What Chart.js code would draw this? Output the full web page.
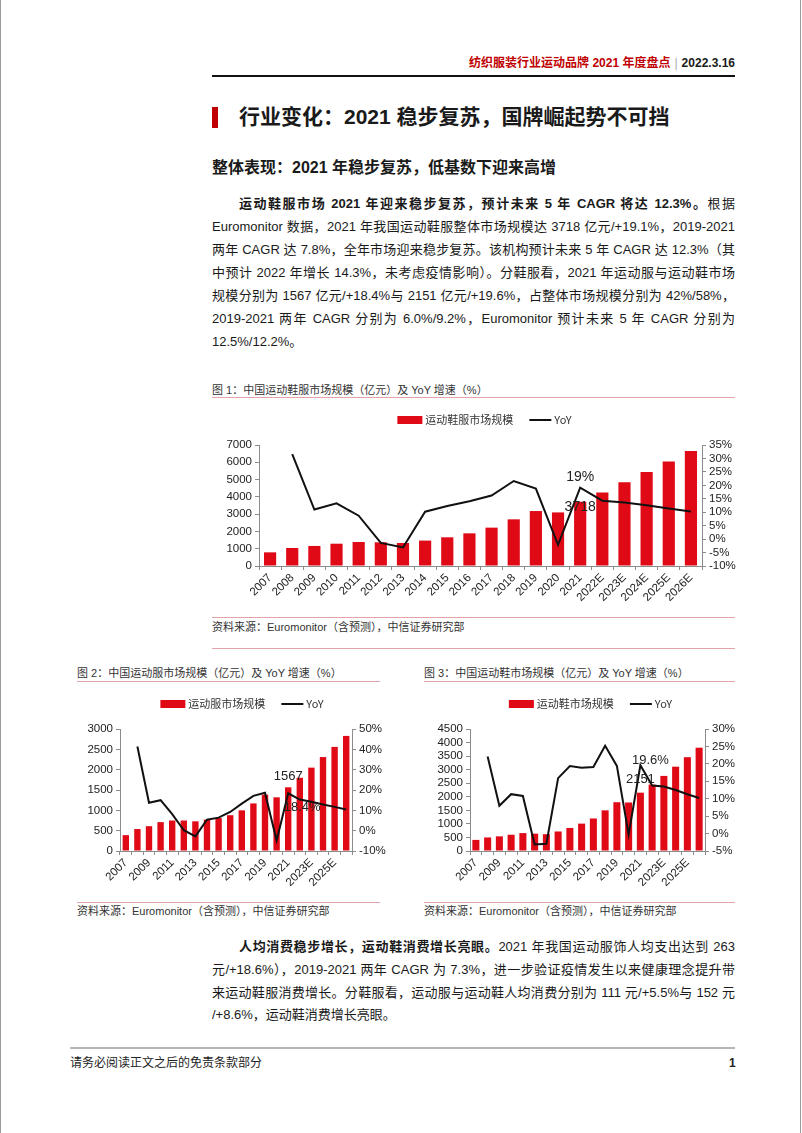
<!DOCTYPE html>
<html>
<head>
<meta charset="utf-8">
<script src="https://cdn.jsdelivr.net/npm/chart.js@4.4.1/dist/chart.umd.min.js"></script>
<style>
  body { margin: 0; background: #fff; }
  #page { position: relative; width: 802px; height: 1133px; overflow: hidden; background: #fff;
          font-family: "Liberation Sans", "Noto Sans CJK SC", sans-serif; color: #1a1a1a; }
  .abs { position: absolute; white-space: nowrap; }
  .edge { position: absolute; top: 0; width: 1px; height: 1133px; background: #9a9a9a; }
  .ln { position: absolute; left: 212px; width: 523px; font-size: 13px; height: 23px; line-height: 23px;
        white-space: nowrap; text-align: justify; text-align-last: justify; }
  .ln.last { text-align-last: left; }
  .ind { padding-left: 27px; width: 496px; }
  .cap { position: absolute; font-size: 11px; color: #333; white-space: nowrap; line-height: 14px; }
  .pink { position: absolute; height: 1px; background: #e2a3aa; }
  canvas { position: absolute; }
</style>
</head>
<body>
<div id="page">
  <div class="edge" style="left:0"></div>
  <div class="edge" style="left:800px"></div>

  <!-- header -->
  <div class="abs" style="right:67px;top:55px;font-size:12px;font-weight:bold;line-height:16px;">
    <span style="color:#c00000">纺织服装行业运动品牌 2021 年度盘点</span><span style="color:#aaa;font-weight:normal;margin:0 4px">|</span><span>2022.3.16</span>
  </div>
  <div class="abs" style="left:212px;top:75px;width:523px;height:2px;background:#111"></div>

  <!-- section title -->
  <div class="abs" style="left:212px;top:107px;width:6px;height:21px;background:#c00000"></div>
  <div class="abs" style="left:239px;top:103px;font-size:21px;font-weight:bold;line-height:28px;color:#1a1a1a">行业变化：2021 稳步复苏，国牌崛起势不可挡</div>
  <div class="abs" style="left:212px;top:157px;font-size:16px;font-weight:bold;line-height:22px;color:#1a1a1a">整体表现：2021 年稳步复苏，低基数下迎来高增</div>

  <!-- paragraph 1 -->
  <div class="ln ind" style="top:192px"><b>运动鞋服市场 2021 年迎来稳步复苏，预计未来 5 年 CAGR 将达 12.3%。</b>根据</div>
  <div class="ln" style="top:215px">Euromonitor 数据，2021 年我国运动鞋服整体市场规模达 3718 亿元/+19.1%，2019-2021</div>
  <div class="ln" style="top:238px">两年 CAGR 达 7.8%，全年市场迎来稳步复苏。该机构预计未来 5 年 CAGR 达 12.3%（其</div>
  <div class="ln" style="top:261px">中预计 2022 年增长 14.3%，未考虑疫情影响）。分鞋服看，2021 年运动服与运动鞋市场</div>
  <div class="ln" style="top:284px">规模分别为 1567 亿元/+18.4%与 2151 亿元/+19.6%，占整体市场规模分别为 42%/58%，</div>
  <div class="ln" style="top:307px">2019-2021 两年 CAGR 分别为 6.0%/9.2%，Euromonitor 预计未来 5 年 CAGR 分别为</div>
  <div class="ln last" style="top:330px">12.5%/12.2%。</div>

  <!-- figure 1 -->
  <div class="cap" style="left:212px;top:383px">图 1：中国运动鞋服市场规模（亿元）及 YoY 增速（%）</div>
  <div class="pink" style="left:212px;top:397px;width:523px"></div>
  <canvas id="chart1" width="540" height="206" style="left:205px;top:406px"></canvas>
  <div class="pink" style="left:212px;top:617px;width:523px"></div>
  <div class="cap" style="left:212px;top:620px">资料来源：Euromonitor（含预测），中信证券研究部</div>
  <div class="pink" style="left:212px;top:648px;width:523px"></div>

  <!-- figure 2 -->
  <div class="cap" style="left:77px;top:666px">图 2：中国运动服市场规模（亿元）及 YoY 增速（%）</div>
  <div class="pink" style="left:77px;top:681px;width:303px"></div>
  <canvas id="chart2" width="320" height="205" style="left:70px;top:690px"></canvas>
  <div class="pink" style="left:77px;top:902px;width:303px"></div>
  <div class="cap" style="left:77px;top:904px">资料来源：Euromonitor（含预测），中信证券研究部</div>

  <!-- figure 3 -->
  <div class="cap" style="left:424px;top:666px">图 3：中国运动鞋市场规模（亿元）及 YoY 增速（%）</div>
  <div class="pink" style="left:424px;top:681px;width:311px"></div>
  <canvas id="chart3" width="325" height="205" style="left:420px;top:690px"></canvas>
  <div class="pink" style="left:424px;top:902px;width:311px"></div>
  <div class="cap" style="left:424px;top:904px">资料来源：Euromonitor（含预测），中信证券研究部</div>

  <!-- paragraph 2 -->
  <div class="ln ind" style="top:935px"><b>人均消费稳步增长，运动鞋消费增长亮眼。</b>2021 年我国运动服饰人均支出达到 263</div>
  <div class="ln" style="top:958px">元/+18.6%），2019-2021 两年 CAGR 为 7.3%，进一步验证疫情发生以来健康理念提升带</div>
  <div class="ln" style="top:981px">来运动鞋服消费增长。分鞋服看，运动服与运动鞋人均消费分别为 111 元/+5.5%与 152 元</div>
  <div class="ln last" style="top:1003px">/+8.6%，运动鞋消费增长亮眼。</div>

  <!-- footer -->
  <div class="abs" style="left:70px;top:1047px;width:665px;height:2px;background:#b5b5b5"></div>
  <div class="abs" style="left:70px;top:1055px;font-size:12px;line-height:16px;color:#222">请务必阅读正文之后的免责条款部分</div>
  <div class="abs" style="left:729px;top:1055px;font-size:12px;line-height:16px;font-weight:bold;color:#222">1</div>
</div>

<script>
// categories
const years = ['2007', '2008', '2009', '2010', '2011', '2012', '2013', '2014', '2015', '2016',
               '2017', '2018', '2019', '2020', '2021', '2022E', '2023E', '2024E', '2025E', '2026E'];

// fig 1: sportswear total (亿元) and YoY (%)
const totalSize = [790, 1040, 1160, 1290, 1390, 1370, 1330, 1470, 1660, 1890,
                   2220, 2700, 3180, 3100, 3718, 4250, 4840, 5440, 6040, 6650];
const totalYoY = [null, 31.6, 11.0, 13.3, 8.7, -1.4, -3.1, 10.2, 12.3, 14.1,
                  16.2, 21.6, 18.8, -2.1, 19.1, 14.3, 13.6, 12.6, 11.4, 10.3];

// fig 2: apparel
const apparelSize = [390, 540, 610, 710, 750, 750, 730, 770, 810, 880,
                     1000, 1170, 1385, 1320, 1567, 1800, 2050, 2310, 2560, 2830];
const apparelYoY = [null, 41.4, 13.7, 15.0, 8.1, 0.2, -2.8, 5.4, 6.4, 9.2,
                    13.3, 17.1, 18.6, -4.8, 18.4, 15.3, 14.2, 12.9, 11.7, 10.4];

// fig 3: footwear
const footwearSize = [410, 500, 540, 600, 660, 640, 620, 720, 850, 1010,
                      1200, 1500, 1800, 1790, 2151, 2450, 2770, 3110, 3460, 3810];
const footwearYoY = [null, 22.1, 8.0, 11.3, 10.8, -3.1, -2.9, 15.9, 19.4, 18.9,
                     19.1, 25.2, 19.4, -0.3, 19.6, 13.8, 13.5, 12.5, 11.3, 10.2];

// axis ranges [min, max, step]
const totalAxis = [0, 7000, 1000];
const totalYoYAxis = [-10, 35, 5];
const apparelAxis = [0, 3000, 500];
const apparelYoYAxis = [-10, 50, 10];
const footwearAxis = [0, 4500, 500];
const footwearYoYAxis = [-5, 30, 5];

const RED = '#e00a16';
const AXIS = '#8c8c8c';
const TICK_FONT = { family: 'Liberation Sans', size: 11.5 };

// legend drawn above the plot, centred on it
const topLegend = {
  id: 'topLegend',
  afterDraw(chart, args, o) {
    const ctx = chart.ctx;
    const area = chart.chartArea;
    const items = chart.data.datasets.map(ds => ({
      text: ds.label,
      line: ds.type === 'line',
      color: ds.type === 'line' ? ds.borderColor : ds.backgroundColor
    }));
    ctx.save();
    ctx.font = o.font;
    ctx.textBaseline = 'middle';
    const widths = items.map(it => (it.line ? 22 : 25) + 3 + ctx.measureText(it.text).width);
    const total = widths.reduce((a, b) => a + b, 0) + 16 * (items.length - 1);
    let x = (area.left + area.right) / 2 + o.dx - total / 2;
    const y = area.top - o.gap;
    items.forEach(it => {
      ctx.fillStyle = it.color;
      if (it.line) { ctx.fillRect(x, y - 1, 22, 2); x += 22; }
      else { ctx.fillRect(x, y - 4, 25, 8); x += 25; }
      x += 3;
      ctx.fillStyle = '#333';
      ctx.fillText(it.text, x, y);
      x += ctx.measureText(it.text).width + 16;
    });
    ctx.restore();
  }
};

// the few value labels on the 2021 bar / point
const valueLabels = {
  id: 'valueLabels',
  afterDatasetsDraw(chart, args, o) {
    const ctx = chart.ctx;
    ctx.save();
    ctx.font = o.font;
    ctx.fillStyle = '#222';
    ctx.textAlign = 'center';
    ctx.textBaseline = 'middle';
    o.items.forEach(l => {
      const el = chart.getDatasetMeta(l.ds).data[l.i];
      const v = chart.data.datasets[l.ds].data[l.i];
      const txt = l.pct ? v.toFixed(l.dec) + '%' : String(v);
      ctx.fillText(txt, el.x + (l.dx || 0), el.y + l.dy);
    });
    ctx.restore();
  }
};

function makeChart(id, sizeLabel, sizes, yoy, axL, axR, cfg) {
  const ctx = document.getElementById(id).getContext('2d');
  return new Chart(ctx, {
    data: {
      labels: years,
      datasets: [
        { type: 'bar', label: sizeLabel, data: sizes, backgroundColor: RED, yAxisID: 'y',
          order: 1, barPercentage: cfg.bar, categoryPercentage: 1 },
        { type: 'line', label: 'YoY', data: yoy, borderColor: '#111', backgroundColor: '#111',
          borderWidth: 2, pointRadius: 0, tension: 0, yAxisID: 'y2', order: 0 }
      ]
    },
    options: {
      responsive: false,
      animation: false,
      layout: { padding: { top: 39, left: 0, right: 0, bottom: 0 } },
      plugins: {
        legend: { display: false },
        tooltip: { enabled: false },
        topLegend: { font: '11px "Noto Sans CJK SC", "Liberation Sans"', gap: 25, dx: cfg.legendDx },
        valueLabels: { font: cfg.labelFont, items: cfg.labels }
      },
      scales: {
        x: {
          offset: true,
          grid: { display: true, drawOnChartArea: false, offset: true, color: AXIS, tickLength: 4 },
          border: { color: AXIS },
          ticks: {
            font: TICK_FONT, color: '#222', minRotation: 45, maxRotation: 45, autoSkip: false, padding: 1,
            callback: function (v, i) { return i % cfg.every === 0 ? this.getLabelForValue(v) : ''; }
          },
          afterFit: s => { s.height = cfg.xh; }
        },
        y: {
          position: 'left', min: axL[0], max: axL[1],
          grid: { drawOnChartArea: false, color: AXIS, tickLength: 4 },
          border: { color: AXIS },
          ticks: { stepSize: axL[2], autoSkip: false, font: TICK_FONT, color: '#222', padding: 3,
                   callback: v => String(v) },
          afterFit: s => { s.width = cfg.lw; }
        },
        y2: {
          position: 'right', min: axR[0], max: axR[1],
          grid: { drawOnChartArea: false, color: AXIS, tickLength: 4 },
          border: { color: AXIS },
          ticks: { stepSize: axR[2], autoSkip: false, font: TICK_FONT, color: '#222', padding: 3,
                   callback: v => v + '%' },
          afterFit: s => { s.width = cfg.rw; }
        }
      }
    },
    plugins: [topLegend, valueLabels]
  });
}

makeChart('chart1', '运动鞋服市场规模', totalSize, totalYoY, totalAxis, totalYoYAxis, {
  bar: 0.55, every: 1, xh: 46, lw: 54, rw: 43, legendDx: 4,
  labelFont: '14px "Liberation Sans"',
  labels: [{ ds: 0, i: 14, dy: 5 }, { ds: 1, i: 14, dy: -11, pct: true, dec: 0 }]
});

makeChart('chart2', '运动服市场规模', apparelSize, apparelYoY, apparelAxis, apparelYoYAxis, {
  bar: 0.55, every: 2, xh: 44, lw: 50, rw: 38, legendDx: 6,
  labelFont: '13px "Liberation Sans"',
  labels: [{ ds: 0, i: 14, dy: -11 }, { ds: 1, i: 14, dy: 14, dx: 14, pct: true, dec: 1 }]
});

makeChart('chart3', '运动鞋市场规模', footwearSize, footwearYoY, footwearAxis, footwearYoYAxis, {
  bar: 0.6, every: 2, xh: 44, lw: 50, rw: 40, legendDx: 3,
  labelFont: '13px "Liberation Sans"',
  labels: [{ ds: 0, i: 14, dy: -13 }, { ds: 1, i: 14, dy: -5, dx: 10, pct: true, dec: 1 }]
});
</script>
</body>
</html>
